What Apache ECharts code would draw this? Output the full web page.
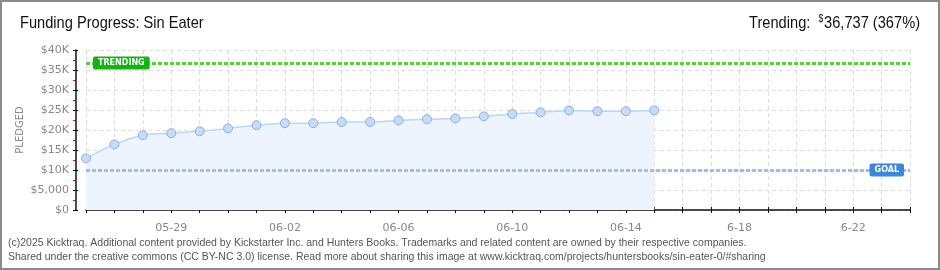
<!DOCTYPE html>
<html><head><meta charset="utf-8">
<script src="https://cdn.jsdelivr.net/npm/echarts@6/dist/echarts.min.js"></script>
<style>html,body{margin:0;padding:0;background:#fff}#c{width:940px;height:270px}</style>
</head><body><div id="c"></div>
<script>
const dates = ['05-26','05-27','05-28','05-29','05-30','05-31','06-01','06-02','06-03','06-04','06-05','06-06','06-07','06-08','06-09','06-10','06-11','06-12','06-13','06-14','06-15','6-16','6-17','6-18','6-19','6-20','6-21','6-22','6-23','6-24'];
const pledged = [12900,16400,18700,19200,19700,20400,21200,21700,21700,22000,22000,22400,22700,22900,23400,24000,24400,24900,24700,24700,24900];
const goal = 10000;
const trending = 36737;
const trendingText = '36,737';
const trendingPct = '367%';
const titleText = 'Funding Progress: Sin Eater';
const footer1 = '(c)2025 Kicktraq. Additional content provided by Kickstarter Inc. and Hunters Books. Trademarks and related content are owned by their respective companies.';
const footer2 = 'Shared under the creative commons (CC BY-NC 3.0) license. Read more about sharing this image at www.kicktraq.com/projects/huntersbooks/sin-eater-0/#sharing';

const chart = echarts.init(document.getElementById('c'));
const labelFont = {color:'#888', fontSize:11, fontFamily:'DejaVu Sans'};
const showLabel = (i) => (i - 3) % 4 === 0 && i >= 3;
const headFont = 'Liberation Sans';
chart.setOption({
  animation:false,
  graphic:[
    {type:'rect', shape:{x:1,y:1,width:938,height:268}, style:{fill:'none', stroke:'#8a8a8a', lineWidth:2}, silent:true},
    {type:'text', x:20, y:23, scaleX:0.86, silent:true,
     style:{text:titleText, font:'17px "'+headFont+'"', fill:'#111', textVerticalAlign:'middle', textAlign:'left'}},
    {type:'text', x:920, y:23, scaleX:0.86, silent:true,
     style:{text:'{a|Trending:  }{s|$}{a|'+trendingText+' ('+trendingPct+')}', textAlign:'right', textVerticalAlign:'middle',
       rich:{a:{fontFamily:headFont, fontSize:17, fill:'#111'}, s:{fontFamily:headFont, fontSize:10, fill:'#111', verticalAlign:'top', padding:[0,1,8,0]}}}},
    {type:'text', x:8, y:243, silent:true,
     style:{text:footer1, font:'10.5px "Liberation Sans"', fill:'#555', textVerticalAlign:'middle'}},
    {type:'text', x:8, y:257, silent:true,
     style:{text:footer2, font:'10.5px "Liberation Sans"', fill:'#555', textVerticalAlign:'middle'}}
  ],
  grid:{left:86, right:30, top:50, bottom:60},
  xAxis:[
    {type:'category', data:dates, boundaryGap:false, position:'bottom', offset:10,
     axisLine:{lineStyle:{color:'#111', width:1.5}},
     axisTick:{interval:0, length:3, lineStyle:{color:'#111'}},
     axisLabel:{interval:(i)=>showLabel(i), margin:3, ...labelFont},
     splitLine:{show:true, interval:0, lineStyle:{color:'#dedede', type:[4,3]}}},
    {type:'category', data:dates, boundaryGap:false, position:'bottom', offset:10,
     axisLine:{show:false}, axisTick:{interval:0, inside:true, length:3, lineStyle:{color:'#111'}},
     axisLabel:{show:false}, splitLine:{show:false}}
  ],
  yAxis:[
    {type:'value', min:0, max:40000, interval:5000, position:'left', offset:10,
     name:'PLEDGED', nameLocation:'middle', nameGap:51, nameRotate:90, nameMoveOverlap:false,
     nameTextStyle:{color:'#888', fontSize:10, fontFamily:'DejaVu Sans'},
     axisLine:{show:true, lineStyle:{color:'#111', width:1.5}},
     axisTick:{show:true, length:3, lineStyle:{color:'#111'}},
     minorTick:{show:true, splitNumber:2, length:3, lineStyle:{color:'#e00'}},
     axisLabel:{margin:7, formatter:(v)=> v===0?'$0':(v===5000?'$5,000':'$'+(v/1000)+'K'), ...labelFont},
     splitLine:{show:true, lineStyle:{color:'#dedede', type:[4,3]}}},
    {type:'value', min:0, max:40000, interval:5000, position:'left', offset:10,
     axisLine:{show:false}, axisTick:{show:true, inside:true, length:2, lineStyle:{color:'#111'}},
     axisLabel:{show:false}, splitLine:{show:false}}
  ],
  series:[{
    type:'line', data:pledged, xAxisIndex:0, yAxisIndex:0, smooth:0.3,
    symbol:'circle', symbolSize:9,
    lineStyle:{color:'#bcd6f3', width:1.5},
    itemStyle:{color:'#c4dcf7', borderColor:'#90aed6', borderWidth:1},
    areaStyle:{color:'#edf4fd', opacity:1},
    markLine:{symbol:'none', silent:true, animation:false,
      data:[
        {yAxis:trending, lineStyle:{color:'#5ccf3c', width:3, type:[4,2]},
         label:{formatter:'TRENDING', position:'insideStart', distance:7, backgroundColor:'#12b312', color:'#fff', fontSize:8, fontWeight:'bold', fontFamily:'DejaVu Sans', padding:[3,5,2,5], borderRadius:2}},
        {yAxis:goal, lineStyle:{color:'#9dbfe6', width:3, type:[4,2]},
         label:{formatter:'GOAL', position:'insideEnd', distance:6, backgroundColor:'#3a88d8', color:'#fff', fontSize:8, fontWeight:'bold', fontFamily:'DejaVu Sans', padding:[3,5,2,5], borderRadius:2}}
      ]}
  }]
});
</script></body></html>
